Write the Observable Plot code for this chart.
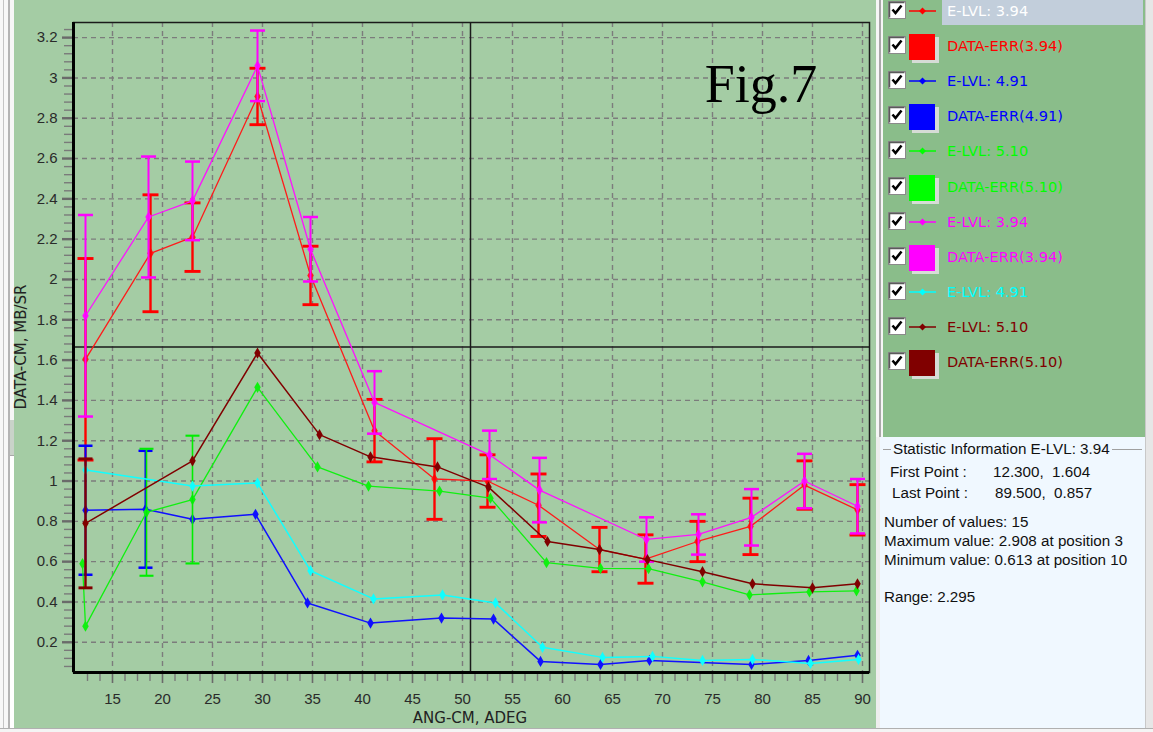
<!DOCTYPE html>
<html>
<head>
<meta charset="utf-8">
<script src="https://cdn.jsdelivr.net/npm/d3@7"></script>
<script src="https://cdn.jsdelivr.net/npm/@observablehq/plot@0.6"></script>
<style>
  html, body { margin: 0; padding: 0; }
  body { width: 1153px; height: 732px; overflow: hidden; position: relative; background: #eeeeee;
         font-family: "Liberation Sans", Arial, sans-serif; }
  .abs { position: absolute; }
  #leftStrip { left: 0; top: 0; width: 14px; height: 728px; background: #f7f7f7; }
  #chart { left: 14px; top: 0; width: 862px; height: 728px; background: #a4cca4; }
  #sep { left: 876px; top: 0; width: 7px; height: 437px; background: #f6f6f6; }
  #legend { left: 883px; top: 0; width: 262px; height: 437px; background: #8abd8a; }
  #stats { left: 880px; top: 437px; width: 265px; height: 291px; background: #f0f8ff; font-size: 15.2px; color: #111; }
  #rightEdge { left: 1145px; top: 0; width: 8px; height: 732px; background: #e6e6e6; border-left: 1px solid #c8c8c8; }
  #bottomEdge { left: 0; top: 728px; width: 1153px; height: 4px; background: #f4f4f4; border-top: 1px solid #b0b0b0; }
  .lrow { position: absolute; left: 0; width: 262px; height: 28px; }
  .ltext { position: absolute; left: 64px; font-family: "DejaVu Sans", Verdana, sans-serif; font-size: 14.6px;
           line-height: 28px; white-space: nowrap; top: 0; }
  .sline { position: absolute; white-space: pre; line-height: 18px; }
  .axlabel { font-family: "DejaVu Sans", Verdana, sans-serif; font-size: 15px; color: #222; white-space: nowrap; }
</style>
</head>
<body>
<div id="leftStrip" class="abs">
  <div class="abs" style="left:3px;top:0;width:1px;height:728px;background:#c4c4c4"></div>
  <div class="abs" style="left:8px;top:0;width:2px;height:728px;background:#b4b4b4"></div>
  <div class="abs" style="left:10px;top:420px;width:4px;height:35px;background:#c9d3c9"></div>
  <div class="abs" style="left:10px;top:455px;width:4px;height:273px;background:#ffffff;border-top:1px solid #a8a8a8"></div>
</div>
<div id="chart" class="abs"></div>
<div id="sep" class="abs">
  <div class="abs" style="left:3px;top:0;width:2px;height:437px;background:#a8a8a8"></div>
</div>
<div id="legend" class="abs"></div>
<div id="stats" class="abs"></div>
<div id="rightEdge" class="abs"></div>
<div id="bottomEdge" class="abs"></div>

<div class="abs axlabel" style="left:21px;top:347px;transform:translate(-50%,-50%) rotate(-90deg);">DATA-CM, MB/SR</div>
<div class="abs axlabel" style="left:470px;top:718px;transform:translate(-50%,-50%);">ANG-CM, ADEG</div>
<svg class="abs" style="left:0;top:0;overflow:visible" width="1" height="1">
  <text x="761" y="102" text-anchor="middle" font-family="Liberation Serif, serif" font-size="54" fill="#000">Fig.7</text>
</svg>

<script>
// ---- E-LVL 3.94 (red) with DATA-ERR(3.94)
const angRed = [12.3, 18.8, 23.0, 29.5, 34.8, 41.2, 47.2, 52.5, 57.6, 63.7, 68.3, 73.5, 78.8, 84.2, 89.5];
const valRed = [1.604, 2.13, 2.21, 2.908, 2.02, 1.25, 1.01, 1.00, 0.88, 0.66, 0.613, 0.70, 0.775, 0.98, 0.857];
const errRed = [0.50, 0.29, 0.17, 0.14, 0.145, 0.155, 0.20, 0.13, 0.155, 0.11, 0.12, 0.10, 0.14, 0.12, 0.125];

// ---- E-LVL 3.94 (magenta) with DATA-ERR(3.94)
const angMag = [12.3, 18.6, 23.0, 29.5, 34.8, 41.2, 52.7, 57.7, 68.4, 73.6, 78.9, 84.2, 89.5];
const valMag = [1.82, 2.31, 2.39, 3.06, 2.15, 1.39, 1.13, 0.955, 0.71, 0.735, 0.82, 1.00, 0.875];
const errMag = [0.50, 0.30, 0.195, 0.175, 0.16, 0.155, 0.12, 0.16, 0.11, 0.10, 0.14, 0.135, 0.135];

// ---- E-LVL 4.91 (blue) with DATA-ERR(4.91) on the first two angles
const angBlue = [12.3, 18.3, 23.0, 29.3, 34.5, 40.8, 47.9, 53.1, 57.8, 63.8, 68.7, 78.9, 84.6, 89.5];
const valBlue = [0.855, 0.86, 0.81, 0.835, 0.395, 0.295, 0.32, 0.315, 0.105, 0.09, 0.11, 0.09, 0.11, 0.135];
const errBlue = [0.32, 0.29, null, null, null, null, null, null, null, null, null, null, null, null];

// ---- E-LVL 4.91 (cyan), no errors
const angCyan = [12.3, 23.0, 29.5, 34.8, 41.1, 48.0, 53.3, 58.0, 64.0, 69.0, 74.0, 79.0, 84.8, 89.6];
const valCyan = [1.055, 0.975, 0.99, 0.555, 0.415, 0.435, 0.395, 0.175, 0.125, 0.13, 0.11, 0.115, 0.095, 0.115];

// ---- E-LVL 5.10 (green) with DATA-ERR(5.10)
const angGreen = [12.0, 12.3, 18.4, 23.0, 29.5, 35.5, 40.6, 47.7, 52.8, 58.4, 63.8, 68.6, 74.0, 78.7, 84.7, 89.4];
const valGreen = [0.59, 0.28, 0.845, 0.908, 1.465, 1.07, 0.975, 0.95, 0.915, 0.595, 0.567, 0.565, 0.50, 0.435, 0.45, 0.455];
const errGreen = [null, null, 0.315, 0.317, null, null, null, null, null, null, null, null, null, null, null, null];

// ---- E-LVL 5.10 (dark red) with DATA-ERR(5.10) on the first angle
const angBrown = [12.3, 23.0, 29.5, 35.7, 40.8, 47.5, 52.6, 58.5, 63.7, 68.5, 74.0, 79.0, 85.0, 89.5];
const valBrown = [0.79, 1.10, 1.635, 1.23, 1.12, 1.07, 0.97, 0.70, 0.66, 0.61, 0.55, 0.49, 0.47, 0.49];
const errBrown = [0.32, null, null, null, null, null, null, null, null, null, null, null, null, null];

// ---- axes
const xDomain = [11.1, 90.7];
const yDomain = [0.05, 3.275];
const xTicks = [15, 20, 25, 30, 35, 40, 45, 50, 55, 60, 65, 70, 75, 80, 85, 90];
const yTicks = [0.2, 0.4, 0.6, 0.8, 1.0, 1.2, 1.4, 1.6, 1.8, 2.0, 2.2, 2.4, 2.6, 2.8, 3.0, 3.2];
const yTickLabels = ["0.2", "0.4", "0.6", "0.8", "1", "1.2", "1.4", "1.6", "1.8", "2", "2.2", "2.4", "2.6", "2.8", "3", "3.2"];

// cursor cross-hair
const cursorAng = [50.8];
const cursorVal = [1.665];

// ---- legend and statistics panel
const legendNames = ["E-LVL: 3.94", "DATA-ERR(3.94)", "E-LVL: 4.91", "DATA-ERR(4.91)", "E-LVL: 5.10", "DATA-ERR(5.10)",
                     "E-LVL: 3.94", "DATA-ERR(3.94)", "E-LVL: 4.91", "E-LVL: 5.10", "DATA-ERR(5.10)"];
const legendColors = ["#ff0000", "#ff0000", "#0000ff", "#0000ff", "#00ff00", "#00ff00",
                      "#ff00ff", "#ff00ff", "#00ffff", "#800000", "#800000"];
const legendKinds = ["line", "box", "line", "box", "line", "box", "line", "box", "line", "line", "box"];
const statTitle = "Statistic Information E-LVL: 3.94";
const statPoints = [["First Point :", "12.300,  1.604"], ["Last Point :", "89.500,  0.857"]];
const statLines = ["Number of values: 15", "Maximum value: 2.908 at position 3", "Minimum value: 0.613 at position 10"];
const statRange = "Range: 2.295";

// ---- build rows
const rows = (ang, val, err) => ang.map((a, i) => ({
  x: a, y: val[i], e: err ? err[i] : null
}));
const red = rows(angRed, valRed, errRed);
const mag = rows(angMag, valMag, errMag);
const blue = rows(angBlue, valBlue, errBlue);
const cyan = rows(angCyan, valCyan);
const green = rows(angGreen, valGreen, errGreen);
const brown = rows(angBrown, valBrown, errBrown);

// horizontal cap symbol for error bars
const cap = (w) => ({ draw(ctx) { ctx.moveTo(-w / 2, 0); ctx.lineTo(w / 2, 0); } });

function series(data, color, width = 1.3) {
  return [
    Plot.line(data, { x: "x", y: "y", stroke: color, strokeWidth: width }),
    Plot.dot(data, { x: "x", y: "y", symbol: "diamond", r: 3.4, fill: color, stroke: "none" })
  ];
}
function errors(data, color, width, capW) {
  const d = data.filter(p => p.e != null);
  return [
    Plot.ruleX(d, { x: "x", y1: p => p.y - p.e, y2: p => p.y + p.e, stroke: color, strokeWidth: width }),
    Plot.dot(d, { x: "x", y: p => p.y - p.e, symbol: cap(capW), fill: "none", stroke: color, strokeWidth: width + 0.5 }),
    Plot.dot(d, { x: "x", y: p => p.y + p.e, symbol: cap(capW), fill: "none", stroke: color, strokeWidth: width + 0.5 })
  ];
}

const round2 = v => Math.round(v * 100) / 100;
const xMinor = d3.range(12.5, 90.6, 1.25).filter(v => !xTicks.includes(v));
const yMinor = d3.range(0.08, 3.27, 0.04).map(round2).filter(v => !yTicks.some(t => Math.abs(t - v) < 1e-6));

const chart = Plot.plot({
  width: 862,
  height: 728,
  marginLeft: 59,
  marginRight: 7,
  marginTop: 22,
  marginBottom: 56,
  x: { domain: xDomain, label: null },
  y: { domain: yDomain, label: null },
  style: { background: "#a4cca4", fontFamily: "Liberation Sans, Arial, sans-serif", fontSize: "15px", color: "#2a2a2a" },
  marks: [
    Plot.gridX(xTicks, { stroke: "#7c7c7c", strokeOpacity: 1, strokeWidth: 1.4, strokeDasharray: "5,4" }),
    Plot.gridY(yTicks, { stroke: "#7c7c7c", strokeOpacity: 1, strokeWidth: 1.4, strokeDasharray: "5,4" }),
    Plot.axisY(yMinor, { tickSize: 9, stroke: "#7a7a7a", strokeWidth: 1.4, tickFormat: () => "", label: null }),
    Plot.axisY(yTicks, { tickSize: 11, tickPadding: 5, stroke: "#6a6a6a", strokeWidth: 2.4, fill: "#2a2a2a",
                         tickFormat: d => yTickLabels[yTicks.indexOf(d)], label: null }),
    Plot.axisX(xMinor, { tickSize: 9, stroke: "#7a7a7a", strokeWidth: 1.4, tickFormat: () => "", label: null }),
    Plot.axisX(xTicks, { tickSize: 11, tickPadding: 10, stroke: "#6a6a6a", strokeWidth: 1.6, fill: "#2a2a2a", label: null }),
    Plot.ruleX(cursorAng, { stroke: "#1a1a1a", strokeWidth: 1.5 }),
    Plot.ruleY(cursorVal, { stroke: "#1a1a1a", strokeWidth: 1.5 }),
    ...series(red, "#ff1a1a"),
    ...errors(red, "#ff0000", 2.4, 16),
    ...series(blue, "#1010ff", 1.5),
    ...errors(blue, "#0000ff", 2, 14),
    ...series(green, "#10f010"),
    ...errors(green, "#00ee00", 1.6, 14),
    ...series(mag, "#ff10ff"),
    ...errors(mag, "#ff00ff", 2, 15),
    ...series(cyan, "#10ffff", 1.5),
    ...series(brown, "#800000", 1.5),
    ...errors(brown, "#800000", 2.4, 14),
    Plot.frame({ stroke: "#1a1a1a", strokeWidth: 1.5 }),
    Plot.ruleX([xDomain[0]], { stroke: "#000", strokeWidth: 3 }),
    Plot.ruleY([yDomain[0]], { stroke: "#000", strokeWidth: 3 })
  ]
});
document.getElementById("chart").appendChild(chart);

// ---- legend
const checkbox = `<svg width="18" height="18" style="position:absolute;left:5px;top:-1px">
  <rect x="0.5" y="0.5" width="17" height="17" fill="#ffffff" stroke="#8a8a8a"/>
  <path d="M1.5,16.5 V1.5 H16.5" fill="none" stroke="#5a5a5a" stroke-width="1.5"/>
  <path d="M4.5,8.5 L7.5,12 L13.5,4.5" fill="none" stroke="#000" stroke-width="2.6"/>
</svg>`;
const legendEl = document.getElementById("legend");
legendNames.forEach((name, i) => {
  const cy = 11 + i * 35.1;
  const row = document.createElement("div");
  row.className = "lrow";
  row.style.top = (cy - 14) + "px";
  const c = legendColors[i];
  const icon = legendKinds[i] === "line"
    ? `<svg width="28" height="28" style="position:absolute;left:26px;top:0">
         <line x1="0" y1="14" x2="27" y2="14" stroke="${c}" stroke-width="1.5"/>
         <path d="M13.5,10.5 L17,14 L13.5,17.5 L10,14 Z" fill="${c}"/>
       </svg>`
    : `<div style="position:absolute;left:29px;top:5px;width:27px;height:26px;background:#d6dcd6"></div>
       <div style="position:absolute;left:26px;top:2px;width:26px;height:26px;background:${c}"></div>`;
  const hi = i === 0;
  row.innerHTML = (hi ? `<div style="position:absolute;left:59px;top:-3px;width:201px;height:31px;background:#c2cedb"></div>` : "")
    + `<div style="position:absolute;left:0;top:5px">${checkbox}</div>`
    + icon
    + `<div class="ltext" style="color:${hi ? "#ffffff" : c}">${name}</div>`;
  legendEl.appendChild(row);
});

// ---- statistics panel
const stats = document.getElementById("stats");
stats.innerHTML =
  `<div class="abs" style="left:3px;top:12px;width:259px;height:0;border-top:1px solid #a0a0a0"></div>
   <div class="sline" style="left:11px;top:3px;background:#f0f8ff;padding:0 2px">${statTitle}</div>`
  + statPoints.map((p, i) =>
      `<div class="sline" style="left:${10 + i * 2}px;top:${26 + i * 21}px">${p[0]}</div>
       <div class="sline" style="left:${113 + i * 2}px;top:${26 + i * 21}px">${p[1]}</div>`).join("")
  + statLines.map((t, i) => `<div class="sline" style="left:4px;top:${76 + i * 19}px">${t}</div>`).join("")
  + `<div class="sline" style="left:4px;top:151px">${statRange}</div>`;
</script>
</body>
</html>
